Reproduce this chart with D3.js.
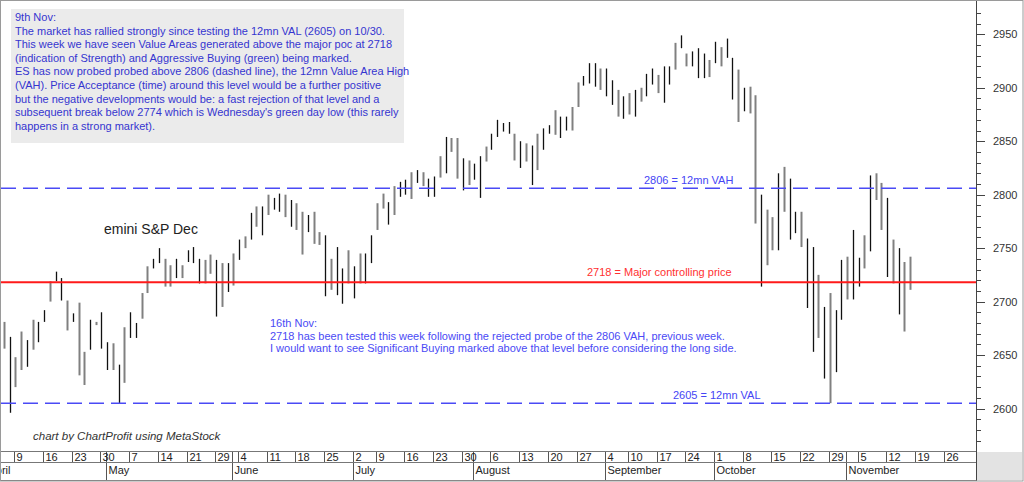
<!DOCTYPE html>
<html><head><meta charset="utf-8">
<script src="https://cdn.jsdelivr.net/npm/d3@7/dist/d3.min.js"></script>
<style>
html,body{margin:0;padding:0;background:#fff;}
svg{display:block;}
text{font-family:"Liberation Sans",Arial,sans-serif;}
</style></head><body>
<svg id="chart" width="1024" height="482"></svg>
<script>
// ---------------- data ----------------
const firstBarDate = "2018-04-05";
const slotStart = "2018-04-02";
const slotEnd = "2018-12-03";
const holidays = ["2018-05-28", "2018-07-04", "2018-09-03"];

const highs = [
  2681,2667,2648,2672,2664,2683,2681,2692,2719,2728,
  2722,2701,2689,2699,2653,2683,2681,2690,2662,2661,
  2641,2676,2690,2680,2708,2733,2740,2750,2740,2734,
  2740,2734,2748,2751,2740,2739,2744,2739,2736,2736,
  2745,2758,2761,2783,2789,2789,2800,2797,2801,2800,
  2795,2792,2784,2781,2784,2765,2762,2740,2751,2731,
  2748,2733,2745,2745,2762,2792,2801,2793,2808,2812,
  2814,2821,2823,2821,2815,2817,2836,2854,2853,2853,
  2834,2832,2829,2836,2845,2857,2870,2867,2868,2857,
  2850,2848,2846,2857,2862,2865,2879,2873,2873,2882,
  2905,2911,2923,2923,2918,2918,2907,2898,2892,2895,
  2898,2900,2913,2918,2912,2920,2920,2942,2949,2932,
  2934,2937,2932,2926,2943,2938,2946,2928,2917,2900,
  2901,2893,2800,2786,2779,2820,2826,2815,2784,2784,
  2759,2751,2725,2695,2708,2692,2739,2742,2767,2741,
  2762,2818,2820,2811,2797,2758,2750,2737,2742
];
const lows = [
  2656,2596,2620,2636,2639,2655,2662,2681,2700,2719,
  2701,2673,2681,2631,2622,2655,2678,2656,2636,2636,
  2605,2624,2666,2666,2684,2708,2731,2736,2714,2714,
  2722,2722,2737,2736,2717,2717,2726,2686,2695,2709,
  2715,2739,2750,2758,2770,2762,2781,2786,2784,2779,
  2770,2767,2744,2765,2754,2753,2705,2711,2706,2698,
  2717,2703,2717,2717,2736,2767,2787,2772,2781,2798,
  2800,2796,2811,2808,2798,2798,2816,2820,2840,2815,
  2804,2809,2814,2797,2831,2842,2854,2859,2857,2832,
  2825,2831,2809,2823,2842,2857,2856,2853,2860,2860,
  2882,2902,2904,2901,2898,2892,2884,2873,2871,2875,
  2873,2887,2892,2903,2895,2886,2903,2917,2937,2920,
  2920,2909,2909,2910,2923,2920,2928,2889,2868,2878,
  2876,2773,2714,2734,2748,2748,2784,2758,2764,2751,
  2694,2653,2666,2628,2605,2634,2683,2702,2702,2714,
  2731,2747,2795,2767,2723,2717,2688,2672,2711
];
// bar tone as drawn: k = black bar, g = grey bar
const tones = ("gkggkgkkgk" + "kgkggkgkkg" + "kgkkggkkgg" + "kgkkkggkgk" + "gkgkgkgkkg" +
               "kggkggkgkk" + "gkgkkggkgk" + "kgkgkkgkgg" + "kgkkgkkkkg" + "kgkgkkgkkg" +
               "gkkkgkkgkg" + "kgkkgkkgkg" + "kkkgkgkkgk" + "ggkggkgkkg" + "kkgkgkkgkk" +
               "gkggkgkgg").split("");

const yTickValues = [2600, 2650, 2700, 2750, 2800, 2850, 2900, 2950];
const vahValue = 2806, valValue = 2605, pocValue = 2718;
const vahLabel = "2806 = 12mn VAH";
const valLabel = "2605 = 12mn VAL";
const pocLabel = "2718 = Major controlling price";
const title = "emini S&P Dec";
const credit = "chart by ChartProfit using MetaStock";
const note1 = [
  "9th Nov:",
  "The market has rallied strongly since testing the 12mn VAL (2605) on 10/30.",
  "This week we have seen Value Areas generated above the major poc at 2718",
  "(indication of Strength) and Aggressive Buying (green) being marked.",
  "ES has now probed probed above 2806 (dashed line), the 12mn Value Area High",
  "(VAH). Price Acceptance (time) around this level would be a further positive",
  "but the negative developments would be: a fast rejection of that level and a",
  "subsequent break below 2774 which is Wednesday's green day low (this rarely",
  "happens in a strong market)."
];
const note2 = [
  "16th Nov:",
  "2718 has been tested this week following the rejected probe of the 2806 VAH, previous week.",
  "I would want to see Significant Buying marked above that level before considering the long side."
];
const monthNames = ["January","February","March","April","May","June","July","August","September","October","November","December"];

// ---------------- layout ----------------
const svg = d3.select("#chart");
const plotL = 1, plotR = 976, plotT = 1, plotB = 451;
const row1T = 451.5, row1B = 462.5, row2B = 480.5;

const parse = d3.utcParse("%Y-%m-%d"), fmt = d3.utcFormat("%Y-%m-%d");
const slots = d3.utcDays(parse(slotStart), d3.utcDay.offset(parse(slotEnd), 1))
  .filter(d => d.getUTCDay() !== 0 && d.getUTCDay() !== 6 && !holidays.includes(fmt(d)));
const i0 = slots.findIndex(d => fmt(d) === firstBarDate);
const step = 5.735, firstX = 4;
const xStart = firstX - step * i0;
const x = d3.scalePoint().domain(slots.map(fmt)).range([xStart, xStart + step * (slots.length - 1)]);
const y = d3.scaleLinear().domain([2600, 2950]).range([408.5, 34.3]);

const bars = highs.map((h, i) => ({ date: fmt(slots[i0 + i]), high: h, low: lows[i], tone: tones[i] }));

svg.append("rect").attr("width", 1024).attr("height", 482).attr("fill", "#fff");

const defs = svg.append("defs");
defs.append("clipPath").attr("id", "plotclip").append("rect")
  .attr("x", plotL).attr("y", plotT).attr("width", plotR - plotL).attr("height", plotB - plotT);
defs.append("clipPath").attr("id", "dateclip").append("rect")
  .attr("x", plotL).attr("y", row1T - 1).attr("width", 972 - plotL).attr("height", 32);

const plot = svg.append("g").attr("clip-path", "url(#plotclip)");

// note box
plot.append("rect").attr("x", 11).attr("y", 9).attr("width", 393).attr("height", 134).attr("fill", "#ebebeb");
plot.append("g").selectAll("text").data(note1).join("text")
  .attr("x", 15).attr("y", (d, i) => 21 + i * 13.6)
  .attr("font-size", 11).attr("fill", "#3535d0").text(d => d);

// bars
plot.append("g").selectAll("line").data(bars).join("line")
  .attr("x1", d => Math.round(x(d.date)) + 0.5).attr("x2", d => Math.round(x(d.date)) + 0.5)
  .attr("y1", d => y(d.high)).attr("y2", d => y(d.low))
  .attr("stroke", d => d.tone === "g" ? "#808080" : "#111")
  .attr("stroke-width", d => d.tone === "g" ? 2 : 1.3);

// level lines
const lineG = plot.append("g");
[vahValue, valValue].forEach(v => {
  lineG.append("line").attr("x1", plotL).attr("x2", plotR).attr("y1", y(v)).attr("y2", y(v))
    .attr("stroke", "#4a4af5").attr("stroke-width", 1.5).attr("stroke-dasharray", "15,7");
});
lineG.append("line").attr("x1", plotL).attr("x2", plotR).attr("y1", y(pocValue)).attr("y2", y(pocValue))
  .attr("stroke", "#ff1a1a").attr("stroke-width", 2);

plot.append("text").attr("x", 644).attr("y", y(vahValue) - 4.5).attr("font-size", 11).attr("fill", "#4545f5").text(vahLabel);
plot.append("text").attr("x", 673).attr("y", y(valValue) - 4.5).attr("font-size", 11).attr("fill", "#4545f5").text(valLabel);
plot.append("text").attr("x", 587).attr("y", y(pocValue) - 6).attr("font-size", 11).attr("fill", "#ff3030").text(pocLabel);

plot.append("g").selectAll("text").data(note2).join("text")
  .attr("x", 270).attr("y", (d, i) => 327 + i * 12.5)
  .attr("font-size", 11).attr("fill", "#4a4af5").text(d => d);

plot.append("text").attr("x", 104).attr("y", 234).attr("font-size", 14)
  .attr("font-family", "'DejaVu Sans', Verdana, sans-serif").attr("fill", "#222").text(title);
plot.append("text").attr("x", 33).attr("y", 440).attr("font-size", 11.5).attr("font-style", "italic")
  .attr("font-family", "'DejaVu Sans', Verdana, sans-serif").attr("fill", "#333").text(credit);

// ---------------- price axis ----------------
const yAx = svg.append("g");
yAx.append("line").attr("x1", plotR + 0.5).attr("x2", plotR + 0.5).attr("y1", 0).attr("y2", 481).attr("stroke", "#444");
const minorTicks = d3.range(2570, 2980, 10).filter(v => y(v) > 2 && y(v) < plotB);
yAx.selectAll("line.t").data(minorTicks).join("line").attr("class", "t")
  .attr("x1", plotR).attr("x2", v => plotR + (v % 50 === 0 ? 9 : 5))
  .attr("y1", v => Math.round(y(v)) + 0.5).attr("y2", v => Math.round(y(v)) + 0.5)
  .attr("stroke", "#444");
yAx.selectAll("text").data(yTickValues).join("text")
  .attr("x", 993).attr("y", v => y(v) + 4).attr("font-size", 11).attr("fill", "#333").text(v => v);

// ---------------- date axis ----------------
const dAx = svg.append("g").attr("clip-path", "url(#dateclip)");
const weekStarts = slots.filter((d, i) => i === 0 || d.getUTCDay() <= slots[i - 1].getUTCDay());
const monthStarts = slots.filter((d, i) => i === 0 || d.getUTCMonth() !== slots[i - 1].getUTCMonth());
const divX = d => Math.round(x(fmt(d))) - 0.5;
dAx.selectAll("line.w").data(d3.union(weekStarts, monthStarts)).join("line").attr("class", "w")
  .attr("x1", divX).attr("x2", divX).attr("y1", row1T).attr("y2", row1B).attr("stroke", "#555");
dAx.selectAll("text.w").data(weekStarts.filter(d => divX(d) > 0)).join("text").attr("class", "w")
  .attr("x", d => divX(d) + 2).attr("y", row1B - 2).attr("font-size", 11).attr("fill", "#222")
  .text(d => d.getUTCDate());
dAx.selectAll("line.m").data(monthStarts).join("line").attr("class", "m")
  .attr("x1", divX).attr("x2", divX).attr("y1", row1B).attr("y2", row2B).attr("stroke", "#555");
dAx.selectAll("text.m").data(monthStarts).join("text").attr("class", "m")
  .attr("x", d => divX(d) + 2).attr("y", row2B - 7).attr("font-size", 11).attr("fill", "#222")
  .text(d => monthNames[d.getUTCMonth()]);
[row1T, row1B, row2B].forEach(yy => svg.append("line").attr("x1", 0).attr("x2", plotR).attr("y1", yy).attr("y2", yy).attr("stroke", "#777"));
svg.append("rect").attr("x", plotR + 1).attr("y", row1T + 0.5).attr("width", 1022 - plotR - 1).attr("height", row2B - row1T - 1).attr("fill", "#e3e3e3");

// outer frame
svg.append("rect").attr("x", 0.5).attr("y", 0.5).attr("width", 1022.5).attr("height", 480.5)
  .attr("fill", "none").attr("stroke", "#9a9a9a");
</script>
</body></html>
